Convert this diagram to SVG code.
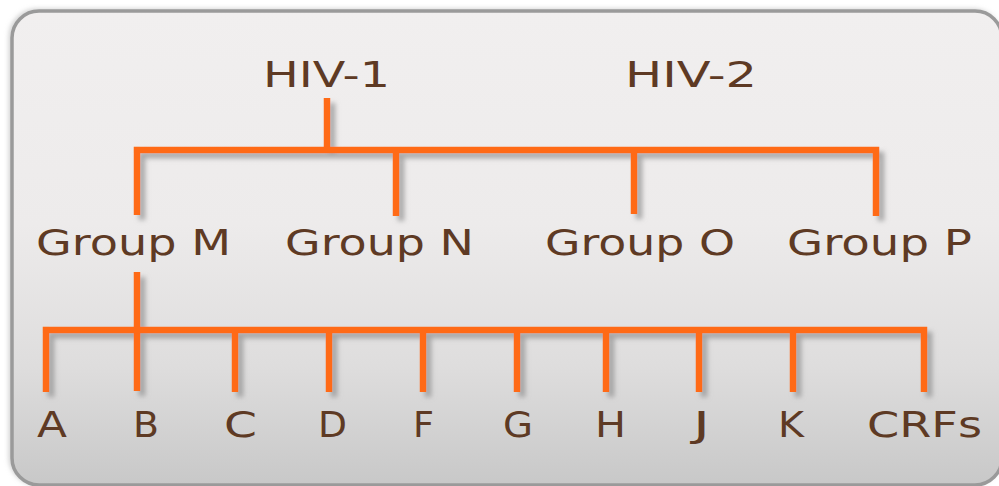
<svg xmlns="http://www.w3.org/2000/svg" width="999" height="486" viewBox="0 0 999 486">
  <defs>
    <linearGradient id="bg" x1="0" y1="0" x2="0" y2="1">
      <stop offset="0" stop-color="#f1efef"/>
      <stop offset="0.45" stop-color="#edebeb"/>
      <stop offset="0.75" stop-color="#dedddd"/>
      <stop offset="1" stop-color="#c8c8c8"/>
    </linearGradient>
    <filter id="shadow" x="-20%" y="-20%" width="140%" height="140%">
      <feDropShadow dx="5" dy="5" stdDeviation="2.5" flood-color="#8a8a8a" flood-opacity="0.7"/>
    </filter>
    <filter id="boxshadow" x="-5%" y="-5%" width="110%" height="110%">
      <feDropShadow dx="-2" dy="-1" stdDeviation="2" flood-color="#bbbbbb" flood-opacity="0.6"/>
    </filter>
  </defs>
  <style>
    .lbl { font-family: "DejaVu Sans", Verdana, sans-serif; font-size: 35px; fill: #5e3a24; }
    .conn { fill: none; stroke: #ff6a17; stroke-width: 6.5; stroke-linecap: butt; stroke-linejoin: miter; }
  </style>
  <rect width="999" height="486" fill="#ffffff"/>
  <rect x="12" y="11" width="990" height="474" rx="27" ry="27" fill="url(#bg)" stroke="#9a9a9a" stroke-width="3.5" filter="url(#boxshadow)"/>

  <g id="connectors" filter="url(#shadow)">
    <path class="conn" d="M327,98 V150"/>
    <path class="conn" d="M137,215 V150 H876 V216"/>
    <path class="conn" d="M396,150 V216"/>
    <path class="conn" d="M634,150 V214"/>
    <path class="conn" d="M137,272 V391"/>
    <path class="conn" d="M46,392 V330 H924 V392"/>
    <path class="conn" d="M235,330 V392"/>
    <path class="conn" d="M329,330 V392"/>
    <path class="conn" d="M423,330 V392"/>
    <path class="conn" d="M517,330 V392"/>
    <path class="conn" d="M606,330 V392"/>
    <path class="conn" d="M699,330 V392"/>
    <path class="conn" d="M793,330 V392"/>
  </g>

  <g id="hiv1"><text class="lbl" x="263" y="87" textLength="127" lengthAdjust="spacingAndGlyphs">HIV-1</text></g>
  <g id="hiv2"><text class="lbl" x="625" y="87" textLength="132" lengthAdjust="spacingAndGlyphs">HIV-2</text></g>

  <g id="groupM"><text class="lbl" x="36" y="255" textLength="195" lengthAdjust="spacingAndGlyphs">Group M</text></g>
  <g id="groupN"><text class="lbl" x="285" y="255" textLength="189" lengthAdjust="spacingAndGlyphs">Group N</text></g>
  <g id="groupO"><text class="lbl" x="545" y="255" textLength="190" lengthAdjust="spacingAndGlyphs">Group O</text></g>
  <g id="groupP"><text class="lbl" x="787" y="255" textLength="185" lengthAdjust="spacingAndGlyphs">Group P</text></g>

  <g id="subA"><text class="lbl" x="37" y="437" textLength="30" lengthAdjust="spacingAndGlyphs">A</text></g>
  <g id="subB"><text class="lbl" x="133" y="437" textLength="26" lengthAdjust="spacingAndGlyphs">B</text></g>
  <g id="subC"><text class="lbl" x="224" y="437" textLength="33" lengthAdjust="spacingAndGlyphs">C</text></g>
  <g id="subD"><text class="lbl" x="318" y="437" textLength="29" lengthAdjust="spacingAndGlyphs">D</text></g>
  <g id="subF"><text class="lbl" x="413" y="437" textLength="21" lengthAdjust="spacingAndGlyphs">F</text></g>
  <g id="subG"><text class="lbl" x="503" y="437" textLength="30" lengthAdjust="spacingAndGlyphs">G</text></g>
  <g id="subH"><text class="lbl" x="595" y="437" textLength="31" lengthAdjust="spacingAndGlyphs">H</text></g>
  <g id="subJ"><text class="lbl" x="693" y="437" textLength="17" lengthAdjust="spacingAndGlyphs">J</text></g>
  <g id="subK"><text class="lbl" x="778" y="437" textLength="26" lengthAdjust="spacingAndGlyphs">K</text></g>
  <g id="subCRFs"><text class="lbl" x="867" y="437" textLength="115" lengthAdjust="spacingAndGlyphs">CRFs</text></g>
</svg>
